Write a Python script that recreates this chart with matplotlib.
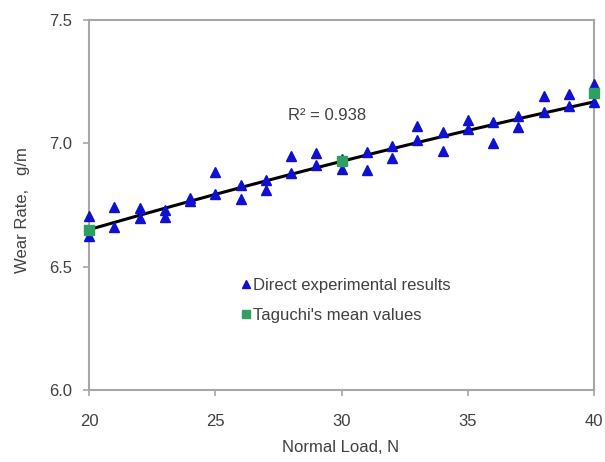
import matplotlib.pyplot as plt
import numpy as np

plt.rcParams['font.family'] = ['Liberation Sans', 'DejaVu Sans']

# Normal load (N) and measured wear rate (g/m), two runs per load
load = np.arange(20, 41)
wear_run1 = [6.707, 6.741, 6.736, 6.728, 6.780, 6.883, 6.832, 6.852, 6.947, 6.962, 6.935,
             6.965, 6.988, 7.069, 7.046, 7.096, 7.087, 7.111, 7.191, 7.199, 7.242]
wear_run2 = [6.625, 6.660, 6.696, 6.700, 6.766, 6.795, 6.775, 6.811, 6.880, 6.913, 6.894,
             6.893, 6.942, 7.015, 6.969, 7.060, 7.003, 7.066, 7.128, 7.152, 7.168]

taguchi_load = [20, 30, 40]
taguchi_wear = [6.650, 6.928, 7.205]

# quadratic trendline in (load - 30)
trend_centre = 30
trend_coef = [-0.00018, 0.0259, 6.927]
r_squared = 0.938

x_all = np.concatenate([load, load])
y_all = np.concatenate([wear_run1, wear_run2])
xfit = np.linspace(20, 40, 200)
yfit = np.polyval(trend_coef, xfit - trend_centre)

axis_grey = '#a6a6a6'
text_grey = '#404040'

fig = plt.figure(figsize=(6.05, 4.62), dpi=100)
ax = fig.add_axes([89/605, 1 - 390/462, 505/605, 370/462])

ax.plot(xfit, yfit, color='black', lw=2.2, zorder=2)
ax.plot(x_all, y_all, linestyle='none', marker='^', ms=7.5, color='#1010d0',
        label='Direct experimental results', zorder=3, clip_on=False)
ax.plot(taguchi_load, taguchi_wear, linestyle='none', marker='s', ms=7, color='#2fa060',
        label="Taguchi's mean values", zorder=4, clip_on=False)

ax.text(27.9, 7.114, 'R² = %.3f' % r_squared, fontsize=12, color=text_grey, va='center')

ax.set_xlim(20, 40)
ax.set_ylim(6.0, 7.5)
ax.set_xticks([20, 25, 30, 35, 40])
ax.set_yticks([6.0, 6.5, 7.0, 7.5])
ax.set_yticklabels(['6.0', '6.5', '7.0', '7.5'])
for s in ax.spines.values():
    s.set_color(axis_grey)
    s.set_linewidth(1.5)
ax.tick_params(axis='both', colors=axis_grey, labelcolor=text_grey, labelsize=12,
               length=4.3, width=1.2, direction='out')
ax.tick_params(axis='x', pad=13)
ax.tick_params(axis='y', pad=8)

fig.text(341/605, 1 - 448/462, 'Normal Load, N', fontsize=12, color=text_grey,
         ha='center', va='center')
fig.text(23/605, 1 - 210/462, 'Wear Rate,   g/m', fontsize=12, color=text_grey,
         ha='center', va='center', rotation=90)

ax.legend(loc='lower left', bbox_to_anchor=(0.272, 0.14), frameon=False,
          fontsize=12, handlelength=0.5, handletextpad=0.2, labelspacing=0.92,
          labelcolor=text_grey, markerscale=0.8)

fig.savefig('out.png', dpi=100)
